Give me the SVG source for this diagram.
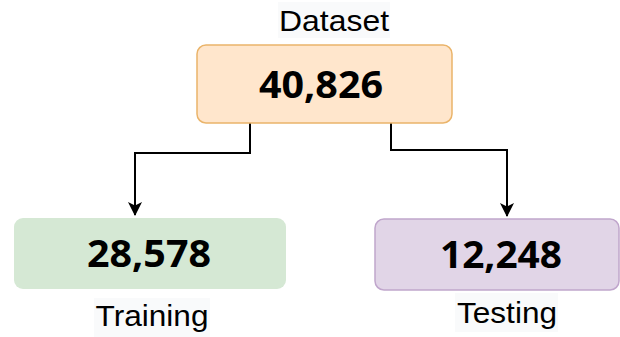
<svg xmlns="http://www.w3.org/2000/svg" width="620" height="337" viewBox="0 0 620 337">
  <defs>
    <marker id="arrow" viewBox="0 0 14 14" refX="13" refY="7" markerWidth="14" markerHeight="14" markerUnits="userSpaceOnUse" orient="auto">
      <path d="M0,0 L14,7 L0,14 L3.5,7 Z" fill="#000"/>
    </marker>
  </defs>
  <style>
    .num { font-family: "Open Sans", "Noto Sans", sans-serif; font-weight: 700; font-size: 37px; fill: #000; text-anchor: middle; }
    .lbl { font-family: "Liberation Sans", Arial, sans-serif; font-size: 30px; fill: #000; text-anchor: middle; }
    .lblbg { fill: #f9fafb; }
    .edge { fill: none; stroke: #000; stroke-width: 2; }
  </style>
  <rect width="620" height="337" fill="#ffffff"/>

  <g id="connectors">
    <path class="edge" d="M250,123 V153 H135 V215" marker-end="url(#arrow)"/>
    <path class="edge" d="M391,123 V150 H507 V216" marker-end="url(#arrow)"/>
  </g>

  <g id="dataset">
    <rect class="lblbg" x="278" y="2" width="112" height="36"/>
    <text class="lbl" x="334" y="31" textLength="110" lengthAdjust="spacingAndGlyphs">Dataset</text>
    <rect x="197" y="45" width="255" height="78" rx="9" fill="#ffe6cc" stroke="#eab46a" stroke-width="1.5"/>
    <text class="num" x="321" y="98" textLength="124" lengthAdjust="spacingAndGlyphs">40,826</text>
  </g>

  <g id="training">
    <rect x="14" y="218" width="272" height="71" rx="9" fill="#d5e8d4"/>
    <text class="num" x="149" y="267" textLength="124" lengthAdjust="spacingAndGlyphs">28,578</text>
    <rect class="lblbg" x="94" y="298" width="116" height="39"/>
    <text class="lbl" x="152" y="326" textLength="113" lengthAdjust="spacingAndGlyphs">Training</text>
  </g>

  <g id="testing">
    <rect x="375" y="219" width="244" height="71" rx="9" fill="#e1d5e7" stroke="#c0a6cc" stroke-width="1.5"/>
    <text class="num" x="501" y="268" textLength="122" lengthAdjust="spacingAndGlyphs">12,248</text>
    <rect class="lblbg" x="455" y="293" width="103" height="39"/>
    <text class="lbl" x="507" y="323" textLength="100" lengthAdjust="spacingAndGlyphs">Testing</text>
  </g>
</svg>
